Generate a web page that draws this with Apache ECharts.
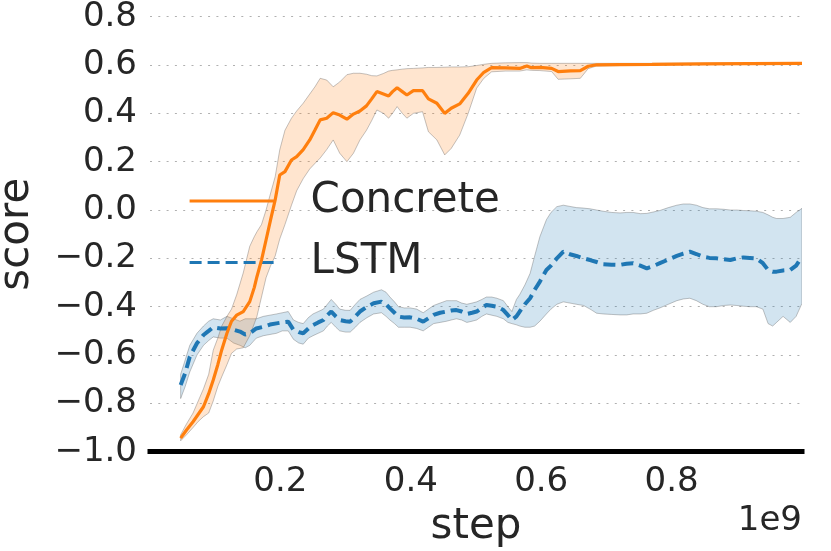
<!DOCTYPE html>
<html><head><meta charset="utf-8">
<script src="https://cdn.jsdelivr.net/npm/echarts@6/dist/echarts.min.js"></script>
<style>html,body{margin:0;padding:0;background:#fff}#c{width:831px;height:551px}</style>
</head><body><div id="c"></div>
<script>
// tick labels
const xTicks = [0.2, 0.4, 0.6, 0.8];
const yTicks = [-1.0, -0.8, -0.6, -0.4, -0.2, 0.0, 0.2, 0.4, 0.6, 0.8];
const seriesNames = ['Concrete', 'LSTM'];

// Concrete (step in 1e9)
const concreteX = [0.047,0.056,0.066,0.074,0.082,0.090,0.097,0.104,0.110,0.118,0.125,0.133,0.143,0.153,0.160,0.164,0.171,0.178,0.185,0.192,0.199,0.207,0.217,0.225,0.235,0.245,0.253,0.261,0.271,0.281,0.291,0.302,0.312,0.322,0.332,0.340,0.348,0.358,0.366,0.372,0.379,0.387,0.394,0.404,0.418,0.427,0.440,0.452,0.462,0.475,0.488,0.501,0.512,0.524,0.545,0.567,0.578,0.585,0.598,0.616,0.626,0.645,0.660,0.672,0.685,0.720,0.770,0.850,0.920,1.000];
const concreteMean = [-0.944,-0.91,-0.876,-0.845,-0.814,-0.76,-0.703,-0.64,-0.579,-0.51,-0.46,-0.435,-0.42,-0.379,-0.32,-0.276,-0.207,-0.124,-0.04,0.042,0.145,0.159,0.207,0.221,0.25,0.29,0.331,0.373,0.38,0.403,0.393,0.376,0.397,0.41,0.431,0.46,0.49,0.48,0.472,0.49,0.506,0.49,0.476,0.494,0.494,0.46,0.442,0.40,0.421,0.439,0.483,0.538,0.57,0.589,0.588,0.586,0.596,0.589,0.59,0.586,0.573,0.576,0.577,0.595,0.601,0.602,0.603,0.605,0.606,0.607];
const concreteLow = [-0.955,-0.93,-0.90,-0.875,-0.855,-0.84,-0.79,-0.73,-0.69,-0.64,-0.593,-0.575,-0.57,-0.52,-0.47,-0.44,-0.36,-0.28,-0.23,-0.19,-0.12,-0.06,0.02,0.08,0.13,0.17,0.193,0.215,0.25,0.29,0.235,0.20,0.235,0.29,0.33,0.37,0.414,0.40,0.38,0.40,0.428,0.40,0.38,0.40,0.407,0.324,0.29,0.228,0.255,0.31,0.40,0.504,0.545,0.572,0.575,0.575,0.58,0.578,0.577,0.573,0.541,0.543,0.545,0.585,0.596,0.598,0.600,0.602,0.603,0.604];
const concreteHigh = [-0.93,-0.885,-0.84,-0.79,-0.74,-0.68,-0.58,-0.53,-0.48,-0.44,-0.41,-0.35,-0.26,-0.15,-0.11,-0.09,-0.06,0.0,0.07,0.138,0.249,0.33,0.38,0.41,0.442,0.48,0.51,0.545,0.538,0.51,0.53,0.56,0.566,0.566,0.562,0.556,0.555,0.565,0.575,0.578,0.58,0.583,0.585,0.586,0.588,0.59,0.59,0.591,0.592,0.592,0.593,0.598,0.603,0.607,0.609,0.61,0.61,0.608,0.607,0.607,0.607,0.607,0.607,0.607,0.607,0.607,0.607,0.608,0.609,0.610];

// LSTM
const lstmX = [0.047,0.054,0.061,0.072,0.082,0.090,0.097,0.108,0.118,0.128,0.138,0.146,0.153,0.163,0.174,0.184,0.194,0.203,0.212,0.220,0.228,0.235,0.243,0.250,0.258,0.266,0.272,0.278,0.285,0.291,0.300,0.307,0.315,0.322,0.333,0.343,0.355,0.362,0.368,0.375,0.381,0.390,0.399,0.409,0.419,0.427,0.435,0.445,0.455,0.462,0.470,0.478,0.486,0.494,0.501,0.509,0.516,0.524,0.532,0.542,0.549,0.555,0.562,0.567,0.575,0.583,0.590,0.598,0.608,0.615,0.624,0.634,0.644,0.654,0.665,0.675,0.685,0.695,0.708,0.721,0.731,0.741,0.752,0.762,0.772,0.782,0.795,0.808,0.818,0.828,0.838,0.848,0.858,0.869,0.880,0.890,0.900,0.910,0.920,0.930,0.940,0.948,0.955,0.961,0.971,0.982,0.991,1.000];
const lstmMean = [-0.724,-0.675,-0.607,-0.551,-0.517,-0.50,-0.485,-0.49,-0.489,-0.495,-0.503,-0.515,-0.51,-0.49,-0.483,-0.474,-0.469,-0.465,-0.462,-0.496,-0.505,-0.51,-0.49,-0.476,-0.465,-0.455,-0.435,-0.42,-0.44,-0.455,-0.46,-0.462,-0.44,-0.42,-0.40,-0.386,-0.379,-0.39,-0.407,-0.425,-0.441,-0.445,-0.444,-0.45,-0.462,-0.448,-0.434,-0.425,-0.42,-0.416,-0.414,-0.42,-0.43,-0.425,-0.42,-0.405,-0.393,-0.396,-0.40,-0.414,-0.435,-0.455,-0.44,-0.42,-0.39,-0.365,-0.33,-0.296,-0.248,-0.23,-0.2,-0.172,-0.183,-0.19,-0.2,-0.207,-0.215,-0.224,-0.226,-0.227,-0.222,-0.22,-0.23,-0.241,-0.232,-0.22,-0.205,-0.19,-0.18,-0.172,-0.182,-0.193,-0.198,-0.2,-0.204,-0.207,-0.2,-0.196,-0.198,-0.2,-0.22,-0.248,-0.255,-0.255,-0.25,-0.248,-0.23,-0.193];
const lstmLow = [-0.78,-0.73,-0.67,-0.60,-0.56,-0.54,-0.525,-0.53,-0.53,-0.55,-0.56,-0.57,-0.56,-0.53,-0.52,-0.515,-0.51,-0.50,-0.50,-0.535,-0.55,-0.555,-0.53,-0.52,-0.51,-0.50,-0.48,-0.465,-0.485,-0.50,-0.505,-0.505,-0.485,-0.465,-0.445,-0.43,-0.425,-0.44,-0.455,-0.47,-0.485,-0.485,-0.485,-0.49,-0.50,-0.485,-0.47,-0.465,-0.46,-0.455,-0.45,-0.455,-0.465,-0.46,-0.455,-0.44,-0.43,-0.435,-0.44,-0.45,-0.465,-0.47,-0.475,-0.48,-0.485,-0.485,-0.48,-0.46,-0.43,-0.41,-0.39,-0.38,-0.385,-0.39,-0.395,-0.41,-0.427,-0.43,-0.432,-0.434,-0.434,-0.43,-0.43,-0.427,-0.415,-0.405,-0.39,-0.375,-0.368,-0.365,-0.375,-0.39,-0.40,-0.40,-0.395,-0.393,-0.395,-0.398,-0.40,-0.40,-0.41,-0.47,-0.48,-0.465,-0.44,-0.465,-0.44,-0.386];
const lstmHigh = [-0.68,-0.62,-0.56,-0.51,-0.48,-0.46,-0.45,-0.455,-0.44,-0.45,-0.46,-0.45,-0.45,-0.45,-0.44,-0.435,-0.43,-0.425,-0.42,-0.455,-0.465,-0.47,-0.445,-0.43,-0.42,-0.41,-0.39,-0.37,-0.39,-0.41,-0.415,-0.415,-0.39,-0.37,-0.355,-0.34,-0.33,-0.34,-0.36,-0.38,-0.40,-0.405,-0.405,-0.41,-0.425,-0.41,-0.395,-0.385,-0.375,-0.375,-0.375,-0.385,-0.39,-0.385,-0.38,-0.37,-0.36,-0.36,-0.365,-0.375,-0.40,-0.42,-0.37,-0.35,-0.31,-0.262,-0.19,-0.11,-0.04,-0.01,0.014,0.02,0.015,0.01,0.008,0.005,0.0,-0.005,-0.01,-0.012,-0.01,-0.01,-0.015,-0.014,-0.008,-0.002,0.01,0.02,0.025,0.025,0.02,0.01,0.005,0.005,0.003,0.0,0.0,-0.002,-0.003,-0.005,-0.01,-0.02,-0.03,-0.035,-0.035,-0.03,-0.01,0.007];

const orange = '#ff7f0e', blue = '#1f77b4';
const textColor = '#262626';
const fontFam = 'DejaVu Sans';

function pairs(xs, ys){ return xs.map((x,i)=>[x, ys[i]]); }
function band(name, xs, lo, hi, fill){
  return {
    type:'custom', name: name, silent:true, clip:true, z:1,
    data:[[xs[0], lo[0]]],
    renderItem: function(params, api){
      const pts = [];
      for (let i=0;i<xs.length;i++) pts.push(api.coord([xs[i], hi[i]]));
      for (let i=xs.length-1;i>=0;i--) pts.push(api.coord([xs[i], lo[i]]));
      return {type:'polygon', shape:{points:pts}, style:{fill:fill, stroke:'rgba(90,90,90,0.45)', lineWidth:0.8}};
    }
  };
}
function fmtY(v){
  if (Math.abs(v) < 1e-9) return '0.0';
  return (v < 0 ? '\u2212' : '') + Math.abs(v).toFixed(1);
}

const chart = echarts.init(document.getElementById('c'), null, {renderer:'canvas'});
chart.setOption({
  animation:false,
  backgroundColor:'#ffffff',
  textStyle:{fontFamily:fontFam, color:textColor},
  grid:{left:150, right:29, top:16.7, bottom:99.3, containLabel:false, outerBoundsMode:'none'},
  xAxis:{
    type:'value', min:0, max:1.0, interval:0.2,
    name:'step', nameLocation:'middle', nameGap:54,
    nameTextStyle:{fontSize:42, color:textColor, fontFamily:fontFam},
    axisLine:{show:true, onZero:false, lineStyle:{color:'#000', width:5, cap:'square'}},
    axisTick:{show:false},
    splitLine:{show:false},
    axisLabel:{fontSize:34, color:textColor, margin:13, fontFamily:fontFam,
      formatter:function(v){ return xTicks.some(t=>Math.abs(t-v)<1e-6) ? v.toFixed(1) : ''; }}
  },
  yAxis:{
    type:'value', min:yTicks[0], max:yTicks[yTicks.length-1], interval:0.2,
    name:'score', nameLocation:'middle', nameGap:112, nameRotate:90,
    nameTextStyle:{fontSize:42, color:textColor, fontFamily:fontFam},
    axisLine:{show:false}, axisTick:{show:false},
    splitLine:{show:true, lineStyle:{color:'#b0b0b0', width:1, type:[2,6.3]}},
    axisLabel:{fontSize:34, color:textColor, margin:13, fontFamily:fontFam, formatter:fmtY}
  },
  legend:{
    data:seriesNames, orient:'vertical', left:188, top:180, padding:0,
    itemWidth:86, itemHeight:14, itemGap:19.5,
    itemStyle:{opacity:0},
    lineStyle:{width:3.2},
    textStyle:{fontSize:42, color:textColor, fontFamily:fontFam, padding:[0,0,0,30]},
    inactiveColor:'#ccc'
  },
  graphic:[{type:'text', right:29, top:504, style:{text:'1e9', font:'34px "DejaVu Sans"', fill:textColor, textAlign:'right'}}],
  series:[
    band('lstmBand', lstmX, lstmLow, lstmHigh, 'rgba(31,119,180,0.2)'),
    band('concreteBand', concreteX, concreteLow, concreteHigh, 'rgba(255,127,14,0.2)'),
    {type:'line', name:'LSTM', data:pairs(lstmX, lstmMean), showSymbol:false, symbol:'none', smooth:false, z:3,
      lineStyle:{color:blue, width:4, type:[12,6]}, itemStyle:{color:blue}},
    {type:'line', name:'Concrete', data:pairs(concreteX, concreteMean), showSymbol:false, symbol:'none', smooth:false, z:4,
      lineStyle:{color:orange, width:3.2}, itemStyle:{color:orange}}
  ]
});
</script></body></html>
